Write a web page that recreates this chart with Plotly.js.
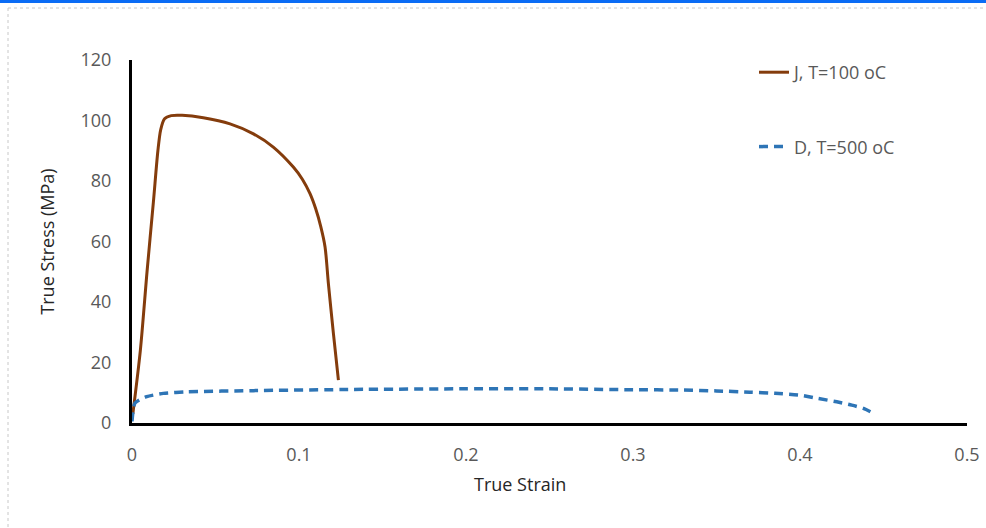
<!DOCTYPE html>
<html>
<head>
<meta charset="utf-8">
<script src="https://cdn.plot.ly/plotly-3.0.1.min.js"></script>
<style>html,body{margin:0;padding:0;background:#fff;}#chart{width:986px;height:528px;}</style>
</head>
<body>
<div id="chart"></div>
<script>
// Series J, T=100 oC
const jStrain = [0.0005, 0.005, 0.009, 0.0128, 0.0155, 0.0172, 0.0195, 0.0235, 0.03, 0.0427, 0.0587, 0.0727, 0.0846, 0.0966, 0.1020, 0.1066, 0.1100, 0.1130, 0.1156, 0.1176, 0.1206, 0.1236];
const jStress = [3, 24, 50, 73, 90, 97, 100.6, 101.6, 101.7, 100.9, 98.9, 95.6, 91.2, 84.6, 80.6, 75.8, 70.8, 65.0, 58.2, 46.1, 29.6, 14.2];
// Series D, T=500 oC
const dStrain = [0, 0.0018, 0.0088, 0.0188, 0.0327, 0.0727, 0.1325, 0.2, 0.25, 0.3, 0.33, 0.35, 0.37, 0.385, 0.4, 0.411, 0.422, 0.431, 0.438, 0.444];
const dStress = [0.5, 6.6, 8.7, 9.8, 10.3, 10.7, 11.1, 11.3, 11.3, 11.0, 10.9, 10.6, 10.2, 9.8, 9.2, 8.1, 7.0, 5.9, 4.8, 3.2];
const seriesNames = ["J, T=100 oC", "D, T=500 oC"];
const xTickVals = [0, 0.1, 0.2, 0.3, 0.4, 0.5];
const xTickText = ["0", "0.1", "0.2", "0.3", "0.4", "0.5"];
const yTickVals = [0, 20, 40, 60, 80, 100, 120];
const yTickText = ["0", "20", "40", "60", "80", "100", "120"];

const FONT = '"Open Sans", "Noto Sans", sans-serif';

const traces = [
  {x: jStrain, y: jStress, name: seriesNames[0], mode: 'lines', legendgroup: 'a',
   line: {color: '#843C0C', width: 3, shape: 'spline', smoothing: 0.8}},
  {x: dStrain, y: dStress, name: seriesNames[1], mode: 'lines', legendgroup: 'b',
   line: {color: '#2E75B6', width: 3.5, dash: '9px,6px', shape: 'spline', smoothing: 0.6}}
];

// paper helpers (plot area: x 132..967, y 60..423)
const px = v => (v - 132) / 835;
const py = v => (423 - v) / 363;

const layout = {
  width: 986, height: 528,
  margin: {l: 132, r: 19, t: 60, b: 105},
  paper_bgcolor: '#ffffff', plot_bgcolor: '#ffffff',
  font: {family: FONT, color: '#595959', size: 18},
  showlegend: true,
  legend: {x: px(754), y: py(54), xanchor: 'left', yanchor: 'top',
    font: {family: FONT, size: 18, color: '#595959'}, tracegroupgap: 48,
    bgcolor: 'rgba(0,0,0,0)'},
  xaxis: {range: [0, 0.5], tickvals: xTickVals, ticktext: xTickText,
    showgrid: false, zeroline: false, showline: true, linecolor: '#000', linewidth: 3,
    ticks: 'outside', ticklen: 13, tickcolor: 'rgba(0,0,0,0)',
    tickfont: {family: FONT, size: 18, color: '#595959'}},
  yaxis: {range: [0, 120], tickvals: yTickVals, ticktext: yTickText,
    showgrid: false, zeroline: false, showline: true, linecolor: '#000', linewidth: 3,
    ticks: 'outside', ticklen: 14, tickcolor: 'rgba(0,0,0,0)',
    tickfont: {family: FONT, size: 18, color: '#595959'},
    title: {text: 'True Stress (MPa)', font: {family: FONT, size: 18, color: '#262626'}, standoff: 22}},
  annotations: [
    {text: 'True Strain', xref: 'paper', yref: 'paper', x: px(520), y: py(484),
     xanchor: 'center', yanchor: 'middle', showarrow: false,
     font: {family: FONT, size: 18, color: '#262626'}}
  ],
  shapes: [
    {type: 'rect', xref: 'paper', yref: 'paper', x0: px(0), x1: px(986), y0: py(0), y1: py(3),
     fillcolor: '#0A6CF5', line: {width: 0}},
    {type: 'line', xref: 'paper', yref: 'paper', x0: px(8), x1: px(986), y0: py(8), y1: py(8),
     line: {color: '#c8c8c8', width: 1, dash: 'dot'}},
    {type: 'line', xref: 'paper', yref: 'paper', x0: px(8), x1: px(8), y0: py(8), y1: py(528),
     line: {color: '#c8c8c8', width: 1, dash: 'dot'}}
  ]
};

Plotly.newPlot('chart', traces, layout, {displayModeBar: false, staticPlot: true});
</script>
</body>
</html>
